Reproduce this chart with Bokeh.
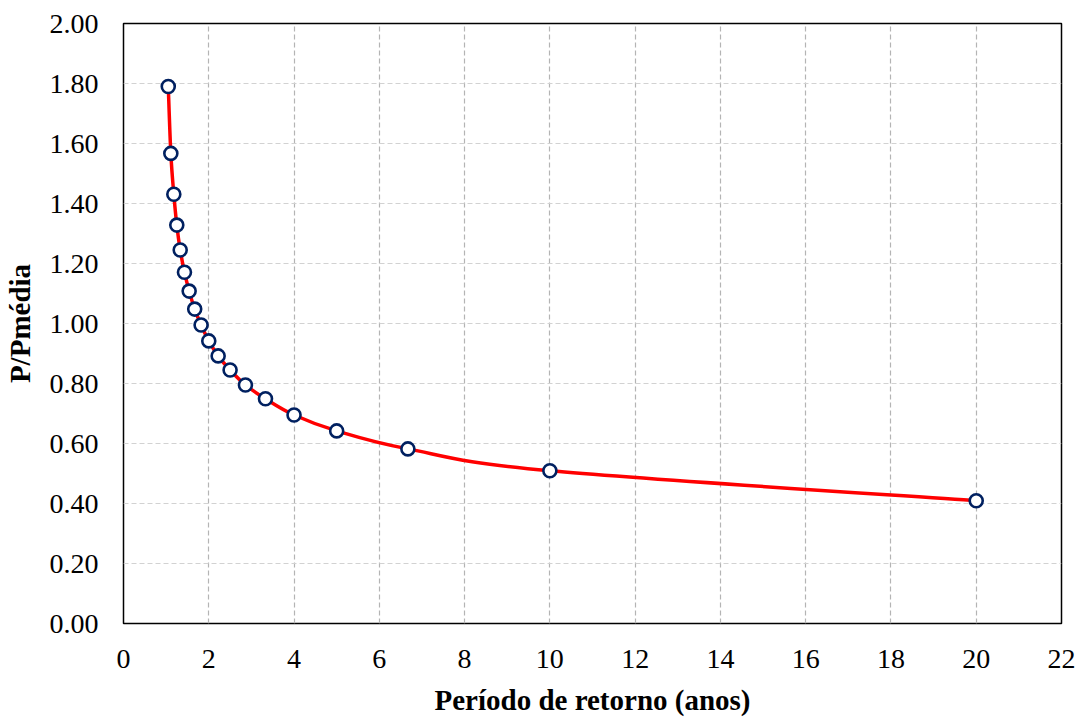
from bokeh.plotting import figure
from bokeh.embed import file_html
from bokeh.resources import INLINE
from bokeh.models import FixedTicker, Range1d, CustomJSTickFormatter

# Data
periodo = [1.05, 1.11, 1.18, 1.25, 1.33, 1.43, 1.54, 1.67, 1.82, 2.00,
           2.22, 2.50, 2.86, 3.33, 4.00, 5.00, 6.67, 10.00, 20.00]
p_pmedia = [1.79, 1.567, 1.431, 1.328, 1.245, 1.171, 1.108, 1.048, 0.995, 0.942,
            0.892, 0.845, 0.795, 0.749, 0.695, 0.642, 0.582, 0.509, 0.409]
x_ticks = [0, 2, 4, 6, 8, 10, 12, 14, 16, 18, 20, 22]
y_ticks = [0.0, 0.2, 0.4, 0.6, 0.8, 1.0, 1.2, 1.4, 1.6, 1.8, 2.0]

FONT = "Liberation Serif"

p = figure(width=1085, height=718, output_backend="svg", toolbar_location=None,
           x_range=Range1d(0, 22), y_range=Range1d(0, 2.0),
           min_border_left=122, min_border_right=24, min_border_top=23, min_border_bottom=94)
p.background_fill_color = "white"
p.border_fill_color = "white"
p.outline_line_color = "black"
p.outline_line_width = 1.5

# smooth curve through the points (Excel-style cubic Bezier segments)
n = len(periodo)
x0, y0, x1, y1, cx0, cy0, cx1, cy1 = [], [], [], [], [], [], [], []
for i in range(n - 1):
    im = max(i - 1, 0)
    ip2 = min(i + 2, n - 1)
    x0.append(periodo[i]); y0.append(p_pmedia[i])
    x1.append(periodo[i + 1]); y1.append(p_pmedia[i + 1])
    cx0.append(periodo[i] + (periodo[i + 1] - periodo[im]) / 6)
    cy0.append(p_pmedia[i] + (p_pmedia[i + 1] - p_pmedia[im]) / 6)
    cx1.append(periodo[i + 1] - (periodo[ip2] - periodo[i]) / 6)
    cy1.append(p_pmedia[i + 1] - (p_pmedia[ip2] - p_pmedia[i]) / 6)
p.bezier(x0=x0, y0=y0, x1=x1, y1=y1, cx0=cx0, cy0=cy0, cx1=cx1, cy1=cy1,
         line_color="#ff0000", line_width=3.5)

p.scatter(periodo, p_pmedia, marker="circle", size=13, fill_color="white",
          line_color="#002060", line_width=2.6)

p.xaxis.ticker = FixedTicker(ticks=x_ticks)
p.yaxis.ticker = FixedTicker(ticks=y_ticks)
p.yaxis.formatter = CustomJSTickFormatter(code="return tick.toFixed(2);")

for ax in (p.xaxis, p.yaxis):
    ax.axis_line_color = None
    ax.major_tick_line_color = None
    ax.minor_tick_line_color = None
    ax.major_tick_in = 0
    ax.major_tick_out = 0
    ax.major_label_text_font = FONT
    ax.major_label_text_font_size = "28px"
    ax.major_label_text_color = "black"
    ax.axis_label_text_font = FONT
    ax.axis_label_text_font_size = "29px"
    ax.axis_label_text_font_style = "bold"
    ax.axis_label_text_color = "black"

p.xaxis.axis_label = "Período de retorno (anos)"
p.yaxis.axis_label = "P/Pmédia"
p.xaxis.major_label_standoff = 26
p.yaxis.major_label_standoff = 25
p.xaxis.axis_label_standoff = 13
p.yaxis.axis_label_standoff = 11

p.xgrid.grid_line_color = "#b4b4b4"
p.xgrid.grid_line_dash = "5 3"
p.xgrid.grid_line_width = 1.2
p.ygrid.grid_line_color = "#d2d2d2"
p.ygrid.grid_line_dash = "5 3"
p.ygrid.grid_line_width = 1.2

open("out.html", "w").write(file_html(p, INLINE))
